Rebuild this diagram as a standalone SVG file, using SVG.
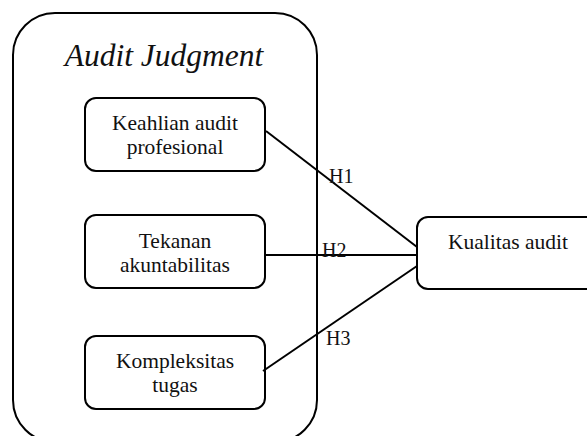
<svg xmlns="http://www.w3.org/2000/svg" width="587" height="436" viewBox="0 0 587 436">
<style>
.box{fill:#fff;stroke:#000;stroke-width:2}
.frame{fill:none;stroke:#000;stroke-width:2}
.t{font-family:"Liberation Serif","Times New Roman",serif;font-size:21.5px;fill:#111;text-anchor:middle}
.h{font-family:"Liberation Serif","Times New Roman",serif;font-size:20px;fill:#111}
.edge{stroke:#000;stroke-width:2;fill:none}
</style>
<rect width="587" height="436" fill="#fff"/>
<g id="audit-judgment">
<rect class="frame" x="13" y="13" width="304" height="429" rx="42" ry="42"/>
<text x="164" y="66" style="font-family:'Liberation Serif','Times New Roman',serif;font-size:31.5px;font-style:italic;fill:#111;text-anchor:middle">Audit Judgment</text>
</g>
<g id="keahlian">
<rect class="box" x="85" y="98" width="180" height="73" rx="11"/>
<text class="t" x="175" y="130">Keahlian audit</text>
<text class="t" x="175" y="154">profesional</text>
</g>
<g id="tekanan">
<rect class="box" x="85" y="215" width="180" height="73" rx="11"/>
<text class="t" x="175" y="248">Tekanan</text>
<text class="t" x="175" y="272">akuntabilitas</text>
</g>
<g id="kompleksitas">
<rect class="box" x="85" y="336" width="180" height="73" rx="11"/>
<text class="t" x="175" y="368">Kompleksitas</text>
<text class="t" x="175" y="392">tugas</text>
</g>
<g id="kualitas">
<rect class="box" x="417" y="217" width="190" height="72" rx="11"/>
<text class="t" x="508" y="249">Kualitas audit</text>
</g>
<g id="connectors">
<line class="edge" x1="266" y1="131" x2="417" y2="247"/>
<line class="edge" x1="265" y1="255" x2="417" y2="255"/>
<line class="edge" x1="263" y1="371" x2="417" y2="266"/>
<text class="h" x="329" y="183">H1</text>
<text class="h" x="322" y="257">H2</text>
<text class="h" x="326" y="345">H3</text>
</g>
</svg>
